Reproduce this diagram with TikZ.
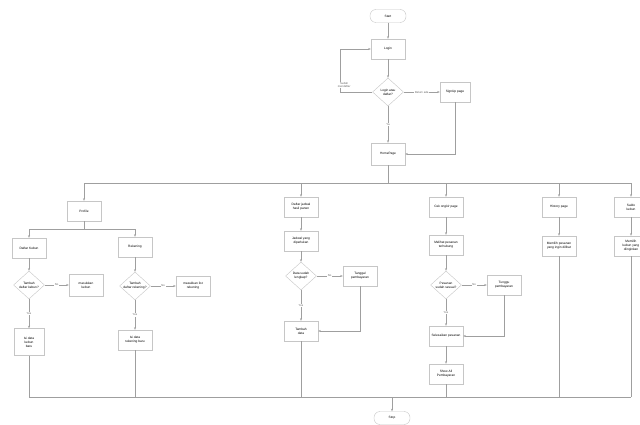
\documentclass[tikz,border=0pt]{standalone}
\usepackage{fontspec}
\setmainfont{Liberation Sans}
\usetikzlibrary{positioning, arrows.meta, shapes.geometric}

\begin{document}
\begin{tikzpicture}[
        x=1pt, y=-1pt, on grid,
        font=\fontsize{3.2pt}{3.9pt}\selectfont,
        block/.style    = {rectangle, draw=gray!45, fill=white, align=center,
                           minimum width=34pt, minimum height=20pt, inner sep=1pt},
        decision/.style = {diamond, draw=gray!45, fill=white, align=center,
                           minimum width=31pt, minimum height=28pt, inner sep=0pt, aspect=1.1},
        term/.style     = {rectangle, rounded corners=6pt, draw=gray!45, fill=white,
                           minimum width=36pt, minimum height=13pt},
        line/.style     = {draw=gray!75, -{Stealth[length=2.6pt, width=2pt]}},
        wire/.style     = {draw=gray!75},
        lbl/.style      = {fill=white, inner sep=0.6pt, text=gray!80!black,
                           font=\fontsize{2.8pt}{3.3pt}\selectfont, align=center}
    ]
        \useasboundingbox (0,0) rectangle (640,425);

        % nodes: top part
        \node [term] (start) at (388,16) {Start};
        \node [block,    below=33pt of start]  (login)  {Login};
        \node [decision, below=43pt of login]  (dec)    {Login atau\\daftar?};
        \node [block,    right=67pt of dec, minimum width=30pt] (signup) {SignUp page};
        \node [block,    below=62pt of dec, minimum height=22pt] (home) {HomePage};
        \node [term] (stop) at (392,418) {Stop};

        % nodes: profile
        \node [block] (profile) at (84,211) {Profile};
        \node [block] (kebun)   at (29,248) {Daftar Kebun};
        \node [block] (rek)     at (135,247) {Rekening};
        \node [decision, below=37pt of kebun] (dKebun) {Tambah\\daftar kebun?};
        \node [block,    right=57pt of dKebun, minimum height=22pt] (tKebun) {masukkan\\kebun};
        \node [block,    below=57pt of dKebun, minimum width=30pt, minimum height=27pt] (iKebun) {Isi data\\kebun\\baru};
        \node [decision, below=39pt of rek] (dRek) {Tambah\\daftar rekening?};
        \node [block,    right=58pt of dRek] (mRek) {masukkan list\\rekening};
        \node [block,    below=54pt of dRek] (iRek) {Isi data\\rekening baru};

        % nodes: jadwal
        \node [block] (jadwal) at (301,207) {Daftar jadwal\\hasil panen};
        \node [block,    below=34pt of jadwal] (perlu)  {Jadwal yang\\diperlukan};
        \node [decision, below=35pt of perlu]  (dData)  {Data sudah\\lengkap?};
        \node [block,    right=59pt of dData]  (tgl)    {Tanggal\\pembayaran};
        \node [block,    below=55pt of dData]  (tambah) {Tambah\\data};

        % nodes: ongkir
        \node [block] (ongkir) at (446,207) {Cek ongkir page};
        \node [block,    below=38pt of ongkir] (pesan)   {Melihat pesanan\\terhubung};
        \node [decision, below=40pt of pesan]  (dPesan)  {Pesanan\\sudah sesuai?};
        \node [block,    right=58pt of dPesan] (tunggu)  {Tunggu\\pembayaran};
        \node [block,    below=51pt of dPesan] (selesai) {Selesaikan pesanan};
        \node [block,    below=38pt of selesai] (show)   {Show All\\Pembayaran};

        % nodes: history, saldo
        \node [block] (hist)  at (559,207) {History page};
        \node [block,    below=39pt of hist]  (pilih)  {Memilih pesanan\\yang ingin dilihat};
        \node [block] (saldo) at (631,207) {Saldo\\kebun};
        \node [block,    below=39pt of saldo] (pkebun) {Memilih\\kebun yang\\diinginkan};

        \coordinate (busT) at (0,183);
        \coordinate (busP) at (0,229);
        \coordinate (busB) at (0,397);

        % arrows: top part
        \path [line] (start) -- (login);
        \path [line] (login) -- (dec);
        \path [line] (dec.west) -- node[lbl, pos=0.88, above=3.5pt] {Sudah\\mendaftar} ++(-32,0) |- (login.west);
        \path [line] (dec) -- node[lbl] {Belum ada} (signup);
        \path [line] (dec) -- node[lbl] {Ya} (home);
        \path [line] (signup.south) |- (home.east);

        % bus
        \path [wire] (home) -- (home |- busT);
        \path [wire] (profile |- busT) -- (saldo |- busT);
        \foreach \n in {profile, jadwal, ongkir, hist, saldo}
            \path [line] (\n |- busT) -- (\n);

        % profile branch
        \path [wire] (profile) -- (profile |- busP);
        \path [wire] (kebun |- busP) -- (rek |- busP);
        \path [line] (kebun |- busP) -- (kebun);
        \path [line] (rek |- busP) -- (rek);
        \path [line] (kebun) -- (dKebun);
        \path [line] (dKebun) -- node[lbl] {No} (tKebun);
        \path [line] (dKebun) -- node[lbl] {Yes} (iKebun);
        \path [line] (rek) -- (dRek);
        \path [line] (dRek) -- node[lbl] {No} (mRek);
        \path [line] (dRek) -- node[lbl] {Yes} (iRek);

        % jadwal branch
        \path [line] (jadwal) -- (perlu);
        \path [line] (perlu) -- (dData);
        \path [line] (dData) -- node[lbl] {No} (tgl);
        \path [line] (dData) -- node[lbl] {Yes} (tambah);
        \path [line] (tgl) |- (tambah);

        % ongkir branch
        \path [line] (ongkir) -- (pesan);
        \path [line] (pesan) -- (dPesan);
        \path [line] (dPesan) -- node[lbl] {No} (tunggu);
        \path [line] (dPesan) -- node[lbl] {Yes} (selesai);
        \path [line] (tunggu) |- (selesai);
        \path [line] (selesai) -- (show);

        % history, saldo
        \path [line] (hist) -- (pilih);
        \path [line] (saldo) -- (pkebun);

        % bottom bus
        \foreach \n in {iKebun, iRek, tambah, show, pilih, pkebun}
            \path [wire] (\n) -- (\n |- busB);
        \path [wire] (iKebun |- busB) -- (pkebun |- busB);
        \path [line] (stop |- busB) -- (stop);
    \end{tikzpicture}
\end{document}
